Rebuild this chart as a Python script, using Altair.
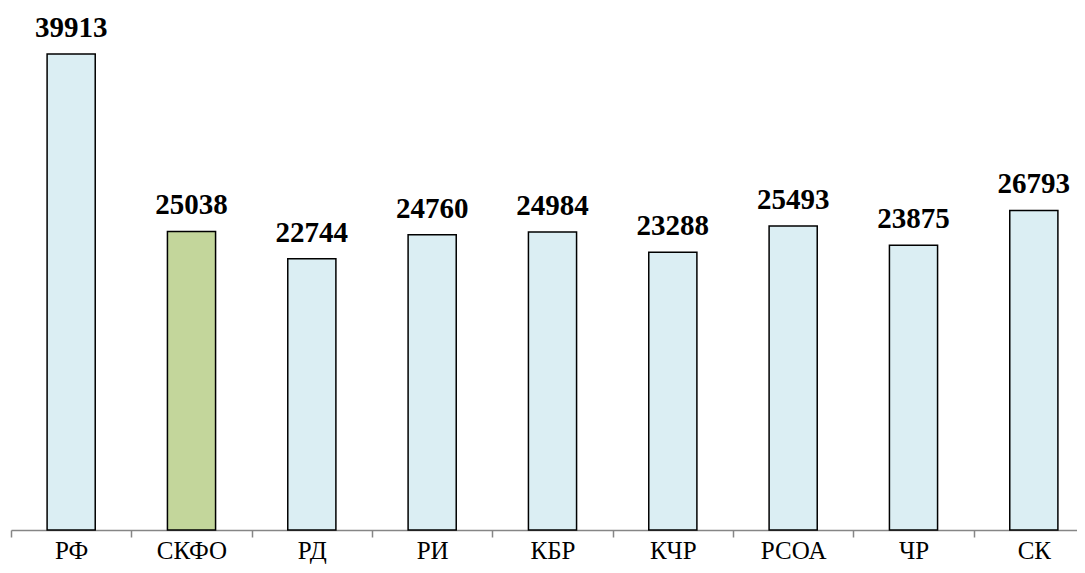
import altair as alt
import pandas as pd

categories = ["РФ", "СКФО", "РД", "РИ", "КБР", "КЧР", "РСОА", "ЧР", "СК"]
values = [39913, 25038, 22744, 24760, 24984, 23288, 25493, 23875, 26793]
groups = ["other", "district", "other", "other", "other", "other", "other", "other", "other"]

df = pd.DataFrame({"cat": categories, "val": values, "grp": groups})

x = alt.X("cat:N", sort=categories, title=None,
          scale=alt.Scale(paddingInner=0, paddingOuter=0, range=[0, 1083]),
          axis=alt.Axis(labelAngle=0, tickBand="extent", domainColor="#868686",
                        tickColor="#868686", domainWidth=1.5, tickWidth=1.5,
                        tickSize=7, labelPadding=21, labelBaseline="alphabetic",
                        labelFont="Liberation Serif", labelFontSize=25,
                        labelColor="#000000", grid=False))
y = alt.Y("val:Q", scale=alt.Scale(domain=[0, 43600]), axis=None)

bars = alt.Chart(df).mark_bar(width=alt.RelativeBandSize(0.4), stroke="#000000",
                              strokeWidth=1.5).encode(
    x=x, y=y,
    color=alt.Color("grp:N", scale=alt.Scale(domain=["other", "district"],
                                             range=["#DBEEF3", "#C3D69B"]), legend=None),
)

labels = alt.Chart(df).mark_text(font="Liberation Serif", fontSize=29, fontWeight="bold",
                                 baseline="alphabetic", dy=-17, color="#000000").encode(
    x=x, y=y, text=alt.Text("val:Q", format="d"))

chart = (bars + labels).properties(
    width=1066, height=520,
    autosize=alt.AutoSizeParams(type="none"),
    padding={"left": 3, "top": 2, "right": 0, "bottom": 35},
).configure_view(stroke=None)

chart.save("out.html", embed_options={"renderer": "svg", "actions": False})
